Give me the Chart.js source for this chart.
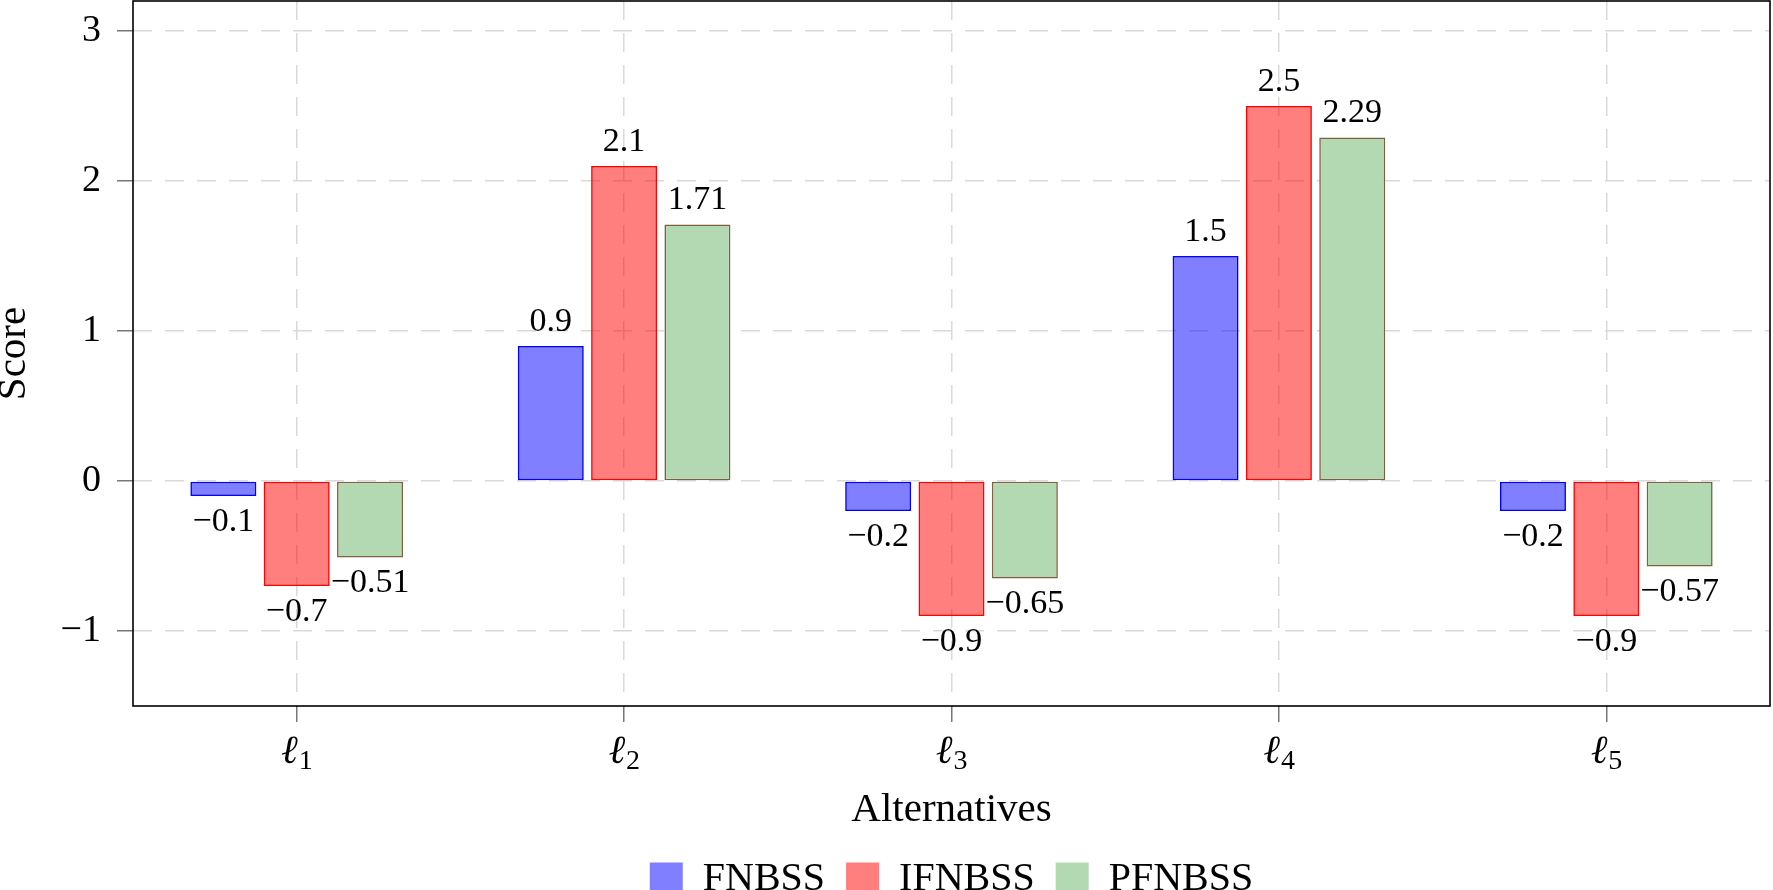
<!doctype html>
<html>

<head>
	<title>Score chart</title>
	<script src="https://cdn.jsdelivr.net/npm/chart.js@4"></script>
	<style>
		body {
			margin: 0;
			background: #fff;
		}
		#wrap {
			width: 1773px;
			height: 890px;
			overflow: hidden;
		}
	</style>
</head>

<body>
	<div id="wrap">
		<canvas id="canvas" width="1773" height="909"></canvas>
	</div>
	<script>
		const alternatives = ['1', '2', '3', '4', '5'];
		const fnbss = [-0.1, 0.9, -0.2, 1.5, -0.2];
		const ifnbss = [-0.7, 2.1, -0.9, 2.5, -0.9];
		const pfnbss = [-0.51, 1.71, -0.65, 2.29, -0.57];
		const yTicks = [-1, 0, 1, 2, 3];

		const serif = "'Liberation Serif', 'DejaVu Serif', serif";
		const fmt = v => (v < 0 ? '\u2212' : '') + Math.abs(v);

		// numbers above / below each bar
		const valueLabels = {
			id: 'valueLabels',
			afterDatasetsDraw(chart) {
				const ctx = chart.ctx;
				ctx.save();
				ctx.font = '34px ' + serif;
				ctx.fillStyle = '#000';
				ctx.textAlign = 'center';
				ctx.textBaseline = 'middle';
				chart.data.datasets.forEach((ds, i) => {
					chart.getDatasetMeta(i).data.forEach((bar, j) => {
						const v = ds.data[j];
						ctx.fillText(fmt(v), bar.x, v < 0 ? bar.y + 26 : bar.y - 24);
					});
				});
				ctx.restore();
			}
		};

		// box round the plot and the l_i tick labels
		const frame = {
			id: 'frame',
			afterDraw(chart) {
				const ctx = chart.ctx;
				const a = chart.chartArea;
				ctx.save();
				ctx.strokeStyle = '#000';
				ctx.lineWidth = 1.6;
				ctx.strokeRect(a.left, a.top, a.right - a.left, a.bottom - a.top);

				const xs = chart.scales.x;
				ctx.fillStyle = '#000';
				ctx.textBaseline = 'alphabetic';
				xs.ticks.forEach((t, i) => {
					const x = xs.getPixelForTick(i);
					ctx.font = 'italic 40px ' + serif;
					ctx.textAlign = 'right';
					ctx.fillText('\u2113', x + 1, a.bottom + 57);
					ctx.font = '28px ' + serif;
					ctx.textAlign = 'left';
					ctx.fillText(alternatives[i], x + 2, a.bottom + 63);
				});
				ctx.restore();
			}
		};

		const gridOpts = {
			color: '#d9d9d9',
			lineWidth: 1.5,
			tickLength: 16,
			tickColor: '#777',
			tickWidth: 1.5,
			tickBorderDash: []
		};

		const config = {
			type: 'bar',
			data: {
				labels: alternatives,
				datasets: [{
					label: 'FNBSS',
					data: fnbss,
					backgroundColor: 'rgba(0, 0, 255, 0.5)',
					borderColor: '#0000ff'
				}, {
					label: 'IFNBSS',
					data: ifnbss,
					backgroundColor: 'rgba(255, 0, 0, 0.5)',
					borderColor: '#ff0000'
				}, {
					label: 'PFNBSS',
					data: pfnbss,
					backgroundColor: '#b3d9b3',
					borderColor: '#806040'
				}]
			},
			options: {
				responsive: false,
				animation: false,
				events: [],
				categoryPercentage: 0.672,
				barPercentage: 0.9,
				datasets: {
					bar: {
						borderWidth: 1.6,
						borderSkipped: false
					}
				},
				layout: {
					padding: { top: 1, right: 3, left: 0, bottom: 0 }
				},
				scales: {
					x: {
						grid: Object.assign({ offset: false }, gridOpts),
						border: { display: false, dash: [19, 13] },
						ticks: { display: false },
						title: {
							display: true,
							text: 'Alternatives',
							color: '#000',
							font: { family: serif, size: 41 },
							padding: { top: 0, bottom: 3 }
						},
						afterFit: s => {
							s.height = 132;
							s.paddingLeft = 0;
							s.paddingRight = 0;
						}
					},
					y: {
						min: -1.5,
						max: 3.2,
						afterBuildTicks: s => { s.ticks = yTicks.map(v => ({ value: v })); },
						grid: gridOpts,
						border: { display: false, dash: [19, 13] },
						ticks: {
							color: '#000',
							padding: 16,
							font: { family: serif, size: 38 },
							callback: v => fmt(v)
						},
						title: {
							display: true,
							text: 'Score',
							color: '#000',
							font: { family: serif, size: 41, lineHeight: 0.7 },
							padding: 0
						},
						afterFit: s => {
							s.width = 133;
							s.paddingTop = 0;
							s.paddingBottom = 0;
						}
					}
				},
				plugins: {
					tooltip: { enabled: false },
					legend: {
						position: 'bottom',
						fullSize: false,
						labels: {
							color: '#000',
							font: { family: serif, size: 40 },
							boxWidth: 33,
							boxHeight: 33,
							padding: 21,
							generateLabels: chart => chart.data.datasets.map((ds, i) => ({
								text: ds.label,
								fillStyle: ds.backgroundColor,
								strokeStyle: ds.backgroundColor,
								lineWidth: 0,
								hidden: false,
								datasetIndex: i
							}))
						}
					}
				}
			},
			plugins: [valueLabels, frame]
		};

		window.onload = function() {
			window.myBar = new Chart(document.getElementById('canvas'), config);
		};
	</script>
</body>

</html>
